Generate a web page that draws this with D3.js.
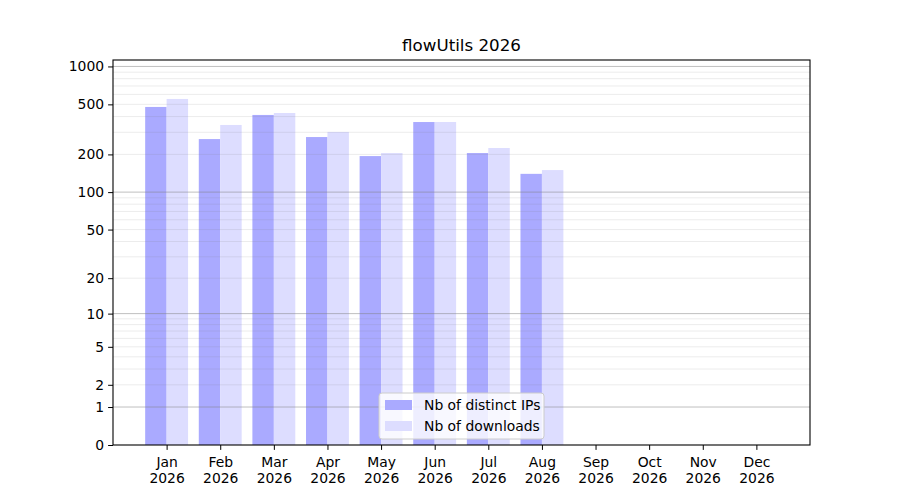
<!DOCTYPE html>
<html>
<head>
<meta charset="utf-8">
<script src="https://cdn.jsdelivr.net/npm/d3@7"></script>
<style>
  body { margin: 0; background: #fff; }
  text { font-family: "DejaVu Sans", sans-serif; fill: #000; }
</style>
</head>
<body>
<div id="chart"></div>
<script>

// ======================= //
// DATA
// ======================= //

var months = ["Jan","Feb","Mar","Apr","May","Jun","Jul","Aug","Sep","Oct","Nov","Dec"]
var year = "2026"

// values (Jan..Aug)
var distinctIPs = [477, 265, 412, 275, 194, 362, 205, 140]
var downloads   = [552, 343, 427, 302, 205, 362, 225, 150]

var yTicks = [0, 1, 2, 5, 10, 20, 50, 100, 200, 500, 1000]
var majorGrid = [1, 10, 100, 1000]
var minorGrid = [2,3,4,5,6,7,8,9, 20,30,40,50,60,70,80,90, 200,300,400,500,600,700,800,900]

var seriesNames = ["Nb of distinct IPs", "Nb of downloads"]
var seriesColors = ["#aaaaff", "#ddddff"]

// ======================= //
// SVG AREA
// ======================= //

var margin = {top: 60, right: 90, bottom: 55, left: 113},
    width = 900 - margin.left - margin.right,
    height = 500 - margin.top - margin.bottom;

var svgRoot = d3.select("#chart")
  .append("svg")
    .attr("width", 900)
    .attr("height", 500)

var svg = svgRoot.append("g")
    .attr("transform", "translate(" + margin.left + "," + margin.top + ")")

// ======================= //
// SCALES
// ======================= //

var x = d3.scaleLinear()
  .domain([-1, 12])
  .range([0, width])

var y = d3.scaleSymlog()
  .constant(1)
  .domain([0, 1125])
  .range([height, 0])

var barW = 0.4

// ======================= //
// BARS
// ======================= //

var series = [distinctIPs, downloads]

series.forEach(function(vals, s){
  svg.append("g")
    .selectAll("rect")
    .data(vals)
    .enter()
    .append("rect")
      .attr("x", function(d, i){ return s == 0 ? x(i - barW) : x(i) })
      .attr("width", x(barW) - x(0))
      .attr("y", function(d){ return y(d) })
      .attr("height", function(d){ return y(0) - y(d) })
      .attr("fill", seriesColors[s])
})

// ======================= //
// GRID (drawn over bars)
// ======================= //

svg.selectAll("minorGrid")
  .data(minorGrid)
  .enter()
  .append("line")
    .attr("x1", 0)
    .attr("x2", width)
    .attr("y1", function(d){ return y(d) })
    .attr("y2", function(d){ return y(d) })
    .attr("stroke", "#808080")
    .attr("stroke-opacity", 0.15)
    .attr("stroke-width", 1)

svg.selectAll("majorGrid")
  .data(majorGrid)
  .enter()
  .append("line")
    .attr("x1", 0)
    .attr("x2", width)
    .attr("y1", function(d){ return y(d) })
    .attr("y2", function(d){ return y(d) })
    .attr("stroke", "#808080")
    .attr("stroke-opacity", 0.5)
    .attr("stroke-width", 1)

// ======================= //
// AXES
// ======================= //

var yAxis = svg.append("g")
  .call(d3.axisLeft(y)
    .tickValues(yTicks)
    .tickFormat(d3.format("d"))
    .tickSize(4.9)
    .tickPadding(4))
yAxis.select(".domain").remove()
yAxis.selectAll("text").style("font-size", "13.9px")

var xAxis = svg.append("g")
  .attr("transform", "translate(0," + height + ")")
  .call(d3.axisBottom(x)
    .tickValues(d3.range(months.length))
    .tickFormat("")
    .tickSize(4.9))
xAxis.select(".domain").remove()

xAxis.selectAll(".tick")
  .append("text")
    .attr("text-anchor", "middle")
    .style("font-size", "13.9px")
    .selectAll("tspan")
    .data(function(d){ return [months[d], year] })
    .enter()
    .append("tspan")
      .attr("x", 0)
      .attr("y", function(d, i){ return 22 + i * 16 })
      .text(function(d){ return d })

// frame
svg.append("rect")
  .attr("x", 0)
  .attr("y", 0)
  .attr("width", width)
  .attr("height", height)
  .attr("fill", "none")
  .attr("stroke", "#000")
  .attr("stroke-width", 1.1)

// ======================= //
// TITLE
// ======================= //

svg.append("text")
  .attr("x", width / 2)
  .attr("y", -9)
  .attr("text-anchor", "middle")
  .style("font-size", "16.7px")
  .text("flowUtils 2026")

// ======================= //
// LEGEND (lower center)
// ======================= //

var legW = 165, legH = 46
var legend = svg.append("g")
  .attr("transform", "translate(" + (width / 2 - legW / 2) + "," + (height - 6 - legH) + ")")

legend.append("rect")
  .attr("width", legW)
  .attr("height", legH)
  .attr("rx", 3)
  .attr("fill", "#fff")
  .attr("fill-opacity", 0.8)
  .attr("stroke", "#cccccc")

seriesNames.forEach(function(name, i){
  legend.append("rect")
    .attr("x", 6)
    .attr("y", 7 + i * 21)
    .attr("width", 27)
    .attr("height", 10)
    .attr("fill", seriesColors[i])
  legend.append("text")
    .attr("x", 45)
    .attr("y", 17 + i * 21)
    .style("font-size", "13.9px")
    .text(name)
})

</script>
</body>
</html>
